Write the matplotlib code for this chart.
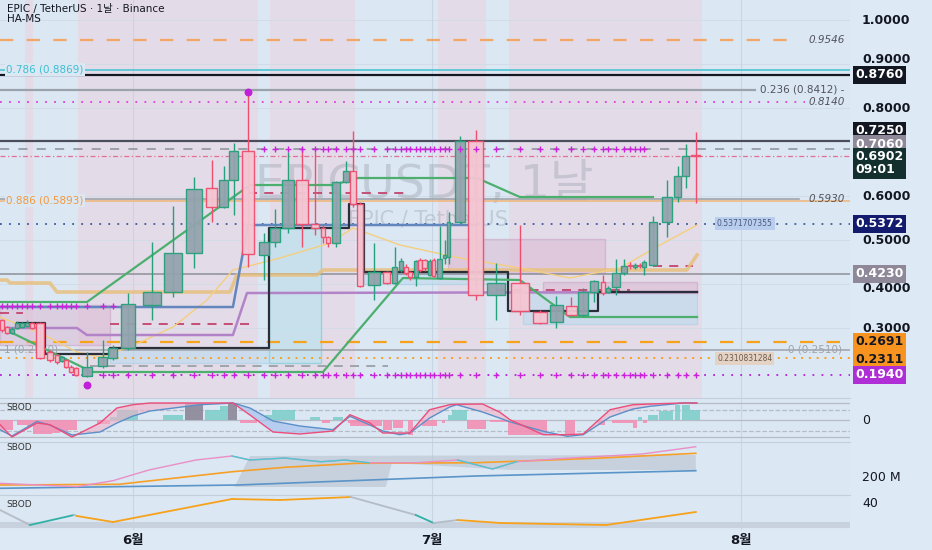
import numpy as np
import matplotlib
matplotlib.use("Agg")
import matplotlib.pyplot as plt
from matplotlib.patches import Rectangle

plt.rcParams['font.family'] = ['DejaVu Sans', 'Noto Sans CJK KR']

# x values are days counted from 1 June (6월 = 0)
cd_day = [-13.11, -12.61, -12.11, -11.61, -11.11, -10.61, -10.10, -9.30, -8.30, -7.60,
          -7.09, -6.69, -6.19, -5.69, -4.59, -2.98, -1.98, -0.47, 1.94, 4.04,
          6.15, 7.95, 9.16, 10.16, 11.57, 13.17, 14.28, 15.58, 16.98, 18.29,
          19.09, 19.59, 20.40, 21.40, 22.10, 22.80, 24.20, 25.50, 26.30, 26.90,
          27.40, 27.80, 28.40, 28.80, 29.30, 29.80, 30.20, 30.80, 31.30, 31.70,
          32.80, 34.40, 36.50, 38.90, 40.90, 42.50, 44.00, 45.20, 46.30, 47.20,
          47.70, 48.50, 49.30, 49.90, 50.40, 50.90, 51.30, 52.20, 53.60, 54.70,
          55.50, 56.50]
cd_open = [0.318, 0.302, 0.289, 0.300, 0.302, 0.304, 0.311, 0.311, 0.2455, 0.2386,
           0.225, 0.2273, 0.2114, 0.2091, 0.1909, 0.2136, 0.2318, 0.2545, 0.3523, 0.3818,
           0.4705, 0.6182, 0.575, 0.6364, 0.7023, 0.4659, 0.4955, 0.5273, 0.6364, 0.5364,
           0.5273, 0.5068, 0.4932, 0.6318, 0.6568, 0.5818, 0.3977, 0.4273, 0.4023, 0.4318,
           0.4386, 0.4273, 0.4159, 0.4545, 0.4545, 0.4205, 0.4545, 0.4136, 0.4591, 0.4614,
           0.5409, 0.725, 0.375, 0.4023, 0.3364, 0.3136, 0.350, 0.3295, 0.3818, 0.4045,
           0.3818, 0.3932, 0.425, 0.4432, 0.4386, 0.4432, 0.4386, 0.4432, 0.5409, 0.5977,
           0.6455, 0.6909]
cd_high = [0.320, 0.305, 0.302, 0.316, 0.314, 0.318, 0.314, 0.313, 0.250, 0.241,
           0.236, 0.230, 0.215, 0.211, 0.2455, 0.2727, 0.262, 0.3795, 0.4955, 0.5773,
           0.6432, 0.6818, 0.6682, 0.7205, 0.8364, 0.5159, 0.5705, 0.700, 0.7114, 0.700,
           0.5341, 0.510, 0.6341, 0.6795, 0.7477, 0.5864, 0.4932, 0.430, 0.4841, 0.460,
           0.445, 0.430, 0.455, 0.458, 0.457, 0.456, 0.458, 0.5318, 0.500, 0.5636,
           0.7364, 0.750, 0.4477, 0.5341, 0.340, 0.3727, 0.3705, 0.390, 0.4091, 0.420,
           0.395, 0.4568, 0.4568, 0.450, 0.447, 0.448, 0.455, 0.5545, 0.6364, 0.6682,
           0.7182, 0.7455]
cd_low = [0.290, 0.286, 0.286, 0.297, 0.300, 0.302, 0.298, 0.230, 0.222, 0.218,
          0.222, 0.209, 0.197, 0.190, 0.188, 0.210, 0.228, 0.250, 0.3182, 0.3705,
          0.4364, 0.5409, 0.5727, 0.5568, 0.4386, 0.4091, 0.4841, 0.5159, 0.4841, 0.5114,
          0.4932, 0.4841, 0.4841, 0.6295, 0.575, 0.3932, 0.3636, 0.400, 0.400, 0.428,
          0.420, 0.410, 0.3955, 0.428, 0.430, 0.418, 0.415, 0.4114, 0.445, 0.4455,
          0.5386, 0.3636, 0.3182, 0.3295, 0.309, 0.300, 0.328, 0.327, 0.360, 0.375,
          0.380, 0.375, 0.420, 0.435, 0.435, 0.436, 0.420, 0.4409, 0.5068, 0.5864,
          0.6182, 0.5841]
cd_close = [0.296, 0.289, 0.298, 0.311, 0.311, 0.311, 0.300, 0.232, 0.2273, 0.2227,
            0.234, 0.2114, 0.200, 0.1932, 0.2114, 0.2341, 0.2545, 0.3545, 0.3818, 0.4705,
            0.6159, 0.575, 0.6364, 0.7023, 0.4682, 0.4955, 0.5273, 0.6364, 0.5364, 0.5273,
            0.5068, 0.4932, 0.6318, 0.6568, 0.5818, 0.3955, 0.4273, 0.4023, 0.4386, 0.4523,
            0.425, 0.4159, 0.4523, 0.4318, 0.4364, 0.4523, 0.4182, 0.4568, 0.4659, 0.5409,
            0.725, 0.375, 0.4023, 0.3386, 0.3114, 0.3523, 0.3295, 0.3818, 0.4068, 0.3795,
            0.3909, 0.425, 0.4409, 0.440, 0.4432, 0.440, 0.450, 0.5409, 0.5977, 0.6455,
            0.6909, 0.6902]

# shaded sessions (day ranges)
band_start = [-10.8, -5.5, 13.8, 30.6, 37.8]
band_end = [-10.0, 12.6, 22.3, 35.5, 57.1]

# indicator lines on the price pane
green_hi_day = [-13.31, -4.59, 11.77, 20.1, 22.6, 34.54, 38.85, 52.2]
green_hi_val = [0.3591, 0.3591, 0.625, 0.625, 0.6409, 0.6409, 0.5977, 0.5977]
green_lo_day = [-13.31, -5.09, -4.29, 19.09, 27.11, 38.85, 43.87, 56.62]
green_lo_val = [0.3023, 0.2114, 0.200, 0.200, 0.4136, 0.4091, 0.325, 0.325]
navy_day = [-11.61, -8.8, -2.28, 13.68, 21.7, 23.2, 37.65, 46.68, 56.62]
navy_val = [0.3114, 0.2409, 0.2545, 0.5273, 0.5818, 0.4273, 0.3386, 0.3818, 0.3818]
steel_day = [-13.31, 10.06, 11.57, 34.5]
steel_val = [0.3477, 0.3477, 0.5341, 0.5341]
purple_day = [-13.31, -5.59, -4.59, 10.06, 11.47, 56.62]
purple_val = [0.300, 0.300, 0.2841, 0.2841, 0.3795, 0.3818]
tan_day = [-13.31, -12.6, -12.3, -8.3, -7.6, 9.76, 10.46, 18.49, 19.09, 55.6, 56.62]
tan_val = [0.4091, 0.4091, 0.4023, 0.4023, 0.3818, 0.3818, 0.4205, 0.4205, 0.4318, 0.4318, 0.4659]
ema_day = [-13.31, -9.3, -5.59, -3.28, -0.27, 4.04, 7.45, 10.06, 14.78, 19.8, 22.1,
           26.82, 32.84, 38.85, 43.87, 48.9, 52.9, 56.62]
ema_val = [0.325, 0.2886, 0.2455, 0.2341, 0.2568, 0.3023, 0.3636, 0.4318, 0.4591, 0.4932,
           0.5273, 0.4886, 0.4591, 0.4364, 0.4136, 0.4364, 0.4886, 0.5341]

# short dashed segments
seg_day0 = [11.57, -13.31, -2.28, 36.55, 52.2, -4.3]
seg_day1 = [27.5, -11.0, 11.77, 49.9, 56.2, 25.6]
seg_val = [0.6068, 0.334, 0.3091, 0.3864, 0.4409, 0.2136]
seg_kind = ['pink', 'pink', 'pink', 'pink', 'pink', 'gray']

# zones
box_day0 = [13.68, -13.31, -2.28, 31.6, 39.2, 41.2, 23.2]
box_day1 = [18.9, -2.28, 13.68, 47.4, 56.6, 56.6, 37.65]
box_lo = [0.2205, 0.2614, 0.2205, 0.425, 0.3091, 0.3795, 0.400]
box_hi = [0.5273, 0.3523, 0.2545, 0.5023, 0.3795, 0.4045, 0.4273]
box_kind = ['cyan', 'pink', 'blue', 'pink', 'blue', 'pink', 'blue']

dot_day = [11.57, -4.59]
dot_val = [0.8364, 0.1705]

price_ticks = [1.0, 0.9, 0.8, 0.6, 0.5, 0.4, 0.3]
month_day = [0, 30, 61]
month_lbl = ['6월', '7월', '8월']

# oscillator pane
osc_day = [-13.31, -12.11, -9.6, -8.3, -6.09, -3.28, -1.58, 0.03, 1.74, 6.75, 10.06, 11.77,
           14.08, 16.78, 20.1, 21.8, 23.8, 25.1, 26.8, 27.8, 29.8, 31.8, 32.5, 35.1, 36.8,
           37.9, 41.2, 43.6, 45.2, 47.9, 50.2, 51.9, 55.2, 56.6]
osc_red = [-4.7, -17, -3, -4.7, -17, -3, 12, 15.3, 17, 17, 17, 5, -12, -14, -11, 5.3, -3,
           -13, -13, -13, 10.3, 15.3, 15.7, 16, 8, 0, -14.7, -14.7, -14, 10.3, 15.3, 16, 17, 17]
osc_blue = [-9.7, -16, -1.5, -5, -15, -12, -3, 4, 9, 15.3, 17, 12, -1, -6, -9.7, 3.7, -5,
            -11, -14.7, -13, 2, 13, 15.3, 8, 2, -2, -11.3, -16.3, -14.7, 3, 11, 13.7, 17, 17]
hist_start = [-13.31, -11.61, -10.6, -10.0, -8.8, -8.1, -7.3, -6.5, -3.6, -2.3, -1.6, 3.03,
              5.25, 7.25, 8.76, 9.56, 10.76, 13.27, 13.97, 17.79, 18.99, 20.1, 21.6,
              21.8, 25.1, 26.1, 27.6, 29.0, 31.0, 31.6, 32.0, 33.5, 35.85, 37.65, 40.4,
              43.4, 46.7, 48.1, 50.2, 50.7, 51.2, 51.7, 52.8, 54.4, 55.1, 55.9]
hist_end = [-12.01, -10.6, -10.0, -8.8, -8.1, -7.3, -6.5, -5.6, -2.3, -1.6, 0.5, 5.05,
            7.05, 8.76, 9.56, 10.46, 12.47, 13.97, 16.28, 18.79, 19.8, 21.1, 22.8,
            25.0, 26.0, 27.1, 28.1, 30.5, 31.3, 32.0, 33.5, 35.5, 37.65, 40.4, 41.6,
            44.4, 47.4, 50.2, 50.6, 51.1, 51.6, 52.7, 54.2, 54.9, 55.9, 56.9]
hist_val = [-9.7, -4.7, -6, -14, -14, -13, -12, -10, -4, 3, 10, 5.3,
            17, 10, 14, 17, -3, 5, 10, 3, -3, 3, -3,
            -6, -9.7, -8, -14.7, -6, -3, 5, 10, -8.7, -2, -14.7, -14.7,
            -14.7, -4.7, -3, -8, 3, -3, 5, 9, 15, 15, 10]

# volume pane (millions)
vol_day = [-13.31, -5.59, -1.98, 1.63, 6.35, 9.96, 11.77, 15.28, 18.88, 21.29, 23.7,
           28.4, 32.6, 36.1, 38.5, 43.4, 47.5, 51.1, 56.5]
vol_pink = [174.8, 161.2, 185.2, 228, 268, 284, 268, 276, 261, 268, 257,
            257, 268, 232, 261, 274.8, 284, 292, 321]
vol_or_day = [-13.31, -1.37, 9.96, 15.28, 22.49, 34.4, 46.4, 56.5]
vol_or = [168, 170.8, 221, 238.8, 254.8, 257, 274.8, 294.8]
vol_bl_day = [-13.31, 10.57, 34.4, 56.5]
vol_bl = [154.8, 168, 204, 225.2]
vol_band_day = [10.2, 11.77, 56.5, 56.5, 37.9, 26.0, 25.4]
vol_band_val = [160, 284, 288, 228, 228, 256, 160]

# third pane
p3_day = [-13.31, -10.3, -5.89, -5.59, -1.98, 9.96, 14.78, 21.9, 28.4, 30.2, 32.6, 36.9, 47.5, 56.5]
p3_val = [33, 18, 28, 27, 21, 44, 43, 46, 28, 20, 23, 20, 18, 31]
p3_col = ['#b4bcc6', '#33b0a6', '#b4bcc6', '#f7a21b', '#f7a21b', '#f7a21b', '#f7a21b',
          '#b4bcc6', '#33b0a6', '#b4bcc6', '#f7a21b', '#f7a21b', '#f7a21b']

BG = '#dbe7f3'
BAND = '#e4dbe8'
GRID = '#c9d5e2'

fig = plt.figure(figsize=(9.32, 5.5), dpi=100)
fig.patch.set_facecolor('#dde9f5')
ax = fig.add_axes([0, 0.27636, 0.91202, 0.72364])
ax1 = fig.add_axes([0, 0.19636, 0.91202, 0.08])
ax2 = fig.add_axes([0, 0.1, 0.91202, 0.09636])
ax3 = fig.add_axes([0, 0.03636, 0.91202, 0.06364])

for a in (ax, ax1, ax2, ax3):
    a.set_facecolor(BG)
    a.set_xlim(-13.31, 71.97)
    a.set_xticks([])
    a.set_yticks([])
    for s in a.spines.values():
        s.set_visible(False)
    for m in month_day:
        a.axvline(m, color=GRID, lw=0.8, zorder=0.5)
for a in (ax1, ax2, ax3):
    a.spines['top'].set_visible(True)
    a.spines['top'].set_color('#c3cfdc')

# ---- price pane
ax.set_ylim(0.1409, 1.0455)
for s0, s1 in zip(band_start, band_end):
    ax.axvspan(s0, s1, color=BAND, lw=0, zorder=0.2)
for p in price_ticks:
    ax.axhline(p, color='#d0dbe7', lw=0.6, zorder=0.4)

ax.text(29.3, 0.625, 'EPICUSDT, 1날', fontsize=34, color='#9aa3ad', alpha=0.4,
        ha='center', va='center', zorder=1)
ax.text(29.6, 0.5455, 'EPIC / TetherUS', fontsize=15, color='#9aa3ad', alpha=0.4,
        ha='center', va='center', zorder=1)

box_style = {'cyan': ('#bfe3ee', '#7fcfdc', 0.75), 'blue': ('#bddbee', '#a9d0e6', 0.6),
             'pink': ('#dcbad3', '#c9a2c3', 0.55)}
for x0, x1, lo, hi, k in zip(box_day0, box_day1, box_lo, box_hi, box_kind):
    fc, ec, al = box_style[k]
    ax.add_patch(Rectangle((x0, lo), x1 - x0, hi - lo, fc=fc, ec=ec, lw=1, alpha=al, zorder=1.2))

# horizontal levels
ax.axhline(0.9546, xmax=0.935, color='#f3a766', lw=1.6, ls=(0, (6, 6)), zorder=2)
ax.axhline(0.8869, color='#58c7d6', lw=1.3, zorder=2)
ax.axhline(0.8760, color='#131722', lw=1.6, zorder=2)
ax.axhline(0.8412, xmax=0.888, color='#9aa2ab', lw=1.6, zorder=2)
ax.axhline(0.8140, xmax=0.947, color='#dd3fdd', lw=1.3, ls=(0, (1, 4)), zorder=2)
ax.axhline(0.7250, color='#4a4e5c', lw=1.6, zorder=2)
ax.axhline(0.7060, color='#8a8f98', lw=1.1, ls=(0, (6, 6)), zorder=2)
ax.axhline(0.6902, color='#e46f95', lw=0.9, ls=(0, (4, 2, 1, 2)), zorder=2)
ax.axhline(0.5930, xmax=0.94, color='#a0a4aa', lw=1.2, zorder=2)
ax.axhline(0.5893, color='#f0b578', lw=1.1, zorder=2)
ax.axhline(0.5372, color='#3c5a99', lw=1.3, ls=(0, (1, 4)), zorder=2)
ax.axhline(0.4230, color='#8c9097', lw=1.1, zorder=2)
ax.axhline(0.2691, color='#f7a21b', lw=1.6, ls=(0, (6, 6)), zorder=2)
ax.axhline(0.2510, color='#9fa3a9', lw=1.1, zorder=2)
ax.axhline(0.2311, color='#f7a21b', lw=1.4, ls=(0, (1, 3)), zorder=2)
ax.axhline(0.1940, color='#b61fd6', lw=1.3, ls=(0, (1, 4)), zorder=2)

for x0, x1, v, k in zip(seg_day0, seg_day1, seg_val, seg_kind):
    c = '#c2456e' if k == 'pink' else '#9aa0a6'
    ax.plot([x0, x1], [v, v], color=c, lw=1.3, ls=(0, (5, 4)), zorder=2.2)

ax.plot(tan_day, tan_val, color='#e7c07f', lw=2.6, alpha=0.85, zorder=2.5)
ax.plot(ema_day, ema_val, color='#f4cf7e', lw=1.0, zorder=2.6)
ax.plot(purple_day, purple_val, color='#b383c8', lw=1.8, zorder=2.7)
ax.plot(steel_day, steel_val, color='#6286bd', lw=1.8, zorder=2.7)
ax.plot(navy_day, navy_val, color='#2a2e39', lw=1.6, drawstyle='steps-post', zorder=2.8)
ax.plot(green_hi_day, green_hi_val, color='#4caf6e', lw=1.6, zorder=2.9)
ax.plot(green_lo_day, green_lo_val, color='#4caf6e', lw=1.6, zorder=2.9)

# candles
d = np.array(cd_day)
gaps = np.diff(d)
w = np.minimum(0.9 * np.minimum(np.r_[gaps[0], gaps], np.r_[gaps, gaps[-1]]), 1.8)
for i in range(len(d)):
    up = cd_close[i] >= cd_open[i]
    ec = '#26a17b' if up else '#ef4d6e'
    fc = '#93a3ad' if up else '#f3c6d2'
    ax.vlines(d[i], cd_low[i], cd_high[i], color=ec, lw=1, zorder=4)
    lo, hi = sorted((cd_open[i], cd_close[i]))
    ax.add_patch(Rectangle((d[i] - w[i] / 2, lo), w[i], max(hi - lo, 0.002),
                           fc=fc, ec=ec, lw=1, alpha=0.95, zorder=4.5))

ax.scatter(d[25:67], np.full(42, 0.7060), marker='+', s=14, color='#cc22dd', lw=1, zorder=5)
ax.scatter(d[15:], np.full(len(d) - 15, 0.1940), marker='+', s=14, color='#cc22dd', lw=1, zorder=5)
ax.scatter(d[:17], np.full(17, 0.3500), marker='+', s=14, color='#cc22dd', lw=1, zorder=5)
ax.scatter(dot_day, dot_val, marker='o', s=22, color='#c020d8', zorder=5.5)

# level captions
ax.text(-12.7, 0.8869, '0.786 (0.8869)', color='#3fbfd0', fontsize=7.5, va='center', zorder=3,
        bbox=dict(fc=BG, ec='none', pad=1))
ax.text(-12.7, 0.5893, '0.886 (0.5893)', color='#f09a3e', fontsize=7.5, va='center', zorder=3,
        bbox=dict(fc=BG, ec='none', pad=1))
ax.text(-12.9, 0.2510, '1 (0.2510)', color='#a0a4aa', fontsize=7.5, va='center', zorder=1.5)
ax.text(67.2, 0.8412, '0.236 (0.8412) -', color='#50535e', fontsize=7.5, va='center', ha='center', zorder=3)
ax.text(68.5, 0.2510, '0 (0.2510)', color='#a0a4aa', fontsize=7.5, va='center', ha='center', zorder=3)
for v in (0.9546, 0.8140, 0.5930):
    ax.text(71.5, v, '%.4f' % v, color='#50535e', fontsize=7.5, style='italic',
            va='center', ha='right', zorder=3)
ax.text(61.4, 0.5372, '0.5371707355', color='#4a5a7a', fontsize=5.5, va='center', ha='center',
        zorder=3, bbox=dict(fc='#b9cdef', ec='none', pad=1.5))
ax.text(61.4, 0.2311, '0.2310831284', color='#6b5a4a', fontsize=5.5, va='center', ha='center',
        zorder=3, bbox=dict(fc='#e4d2c4', ec='none', pad=1.5))

# right price scale (ticks next to a tag are nudged a little, as TradingView does)
yt = ax.get_yaxis_transform()
tick_nudge = {0.9: 3.5, 0.4: -3.5}
for p in price_ticks:
    ax.annotate('%.4f' % p, xy=(1.014, p), xycoords=yt, xytext=(0, tick_nudge.get(p, 0)),
                textcoords='offset points', fontsize=9, weight='bold', color='#131722',
                va='center', ha='left', annotation_clip=False)
# value, box colour, text colour, vertical shift (points) to avoid overlaps
tags = [(0.8760, '#131722', 'white', 0), (0.7250, '#131722', 'white', 7.5),
        (0.7060, '#8e8898', 'white', 3.8), (0.5372, '#121b6e', 'white', 0),
        (0.4230, '#8e8898', 'white', 0), (0.2691, '#f7931e', '#131722', 0),
        (0.2311, '#f7931e', '#131722', -1), (0.1940, '#b02ed6', 'white', 0)]
for v, fc, tc, dy in tags:
    ax.annotate('%.4f' % v, xy=(1.006, v), xycoords=yt, xytext=(0, dy),
                textcoords='offset points', fontsize=9, weight='bold', color=tc,
                va='center', ha='left', annotation_clip=False, zorder=10,
                bbox=dict(boxstyle='square,pad=0.2', fc=fc, ec='none'))
ax.annotate('0.6902\n09:01', xy=(1.006, 0.6902), xycoords=yt, xytext=(0, -5),
            textcoords='offset points', fontsize=9, weight='bold', color='white', va='center',
            ha='left', linespacing=1.0, annotation_clip=False, zorder=10,
            bbox=dict(boxstyle='square,pad=0.2', fc='#13302f', ec='none'))

# ---- oscillator pane
ax1.set_ylim(-22, 22)
for v, ls in ((17, '-'), (10, '--'), (0, '-'), (-11, '--'), (-17, '-')):
    ax1.axhline(v, color='#b4bcc6', lw=0.9, ls=ls, zorder=0.6)
for s0, s1, v in zip(hist_start, hist_end, hist_val):
    c = '#8c8898' if v >= 16.5 else ('#7fcfcc' if v > 0 else '#f290b4')
    ax1.bar(s0, v, width=s1 - s0, align='edge', color=c, lw=0, alpha=0.9, zorder=1)
red = np.array(osc_red)
blue = np.array(osc_blue)
ax1.fill_between(osc_day, red, blue, where=red >= blue, interpolate=True, color='#f0b2c8', alpha=0.6, lw=0, zorder=1.5)
ax1.fill_between(osc_day, red, blue, where=red < blue, interpolate=True, color='#a9c3ee', alpha=0.7, lw=0, zorder=1.5)
ax1.plot(osc_day, blue, color='#5c8fc8', lw=1, zorder=2)
ax1.plot(osc_day, red, color='#ec4d7a', lw=1, zorder=2)
ax1.text(-12.7, 13, 'SBOD', fontsize=6.5, color='#333', va='center')
ax1.text(1.014, 0, '0', transform=ax1.get_yaxis_transform(), fontsize=9, color='#131722',
         va='center', clip_on=False)

# ---- volume pane
ax2.set_ylim(128, 340)
ax2.fill(vol_band_day, vol_band_val, color='#b9c3cf', alpha=0.6, lw=0, zorder=1)
ax2.plot(vol_bl_day, vol_bl, color='#5a94c8', lw=1.2, zorder=2)
ax2.plot(vol_or_day, vol_or, color='#f7a028', lw=1.2, zorder=2.2)
ax2.plot(vol_day, vol_pink, color='#e98fc6', lw=1, zorder=2.4)
ax2.plot(vol_day[5:11], vol_pink[5:11], color='#4cc7cf', lw=1, zorder=2.5)
ax2.plot(vol_day[12:15], vol_pink[12:15], color='#4cc7cf', lw=1, zorder=2.5)
ax2.text(-12.7, 318, 'SBOD', fontsize=6.5, color='#333', va='center')
ax2.text(1.014, 200, '200 M', transform=ax2.get_yaxis_transform(), fontsize=9, color='#131722',
         va='center', clip_on=False)

# ---- third pane
ax3.set_ylim(13, 48)
ax3.axhspan(15, 21, color='#c8d2de', lw=0, zorder=0.6)
for i, c in enumerate(p3_col):
    ax3.plot(p3_day[i:i + 2], p3_val[i:i + 2], color=c, lw=1.3, zorder=2)
ax3.text(-12.7, 39, 'SBOD', fontsize=6.5, color='#333', va='center')
ax3.text(1.014, 40, '40', transform=ax3.get_yaxis_transform(), fontsize=9, color='#131722',
         va='center', clip_on=False)
ax3.set_xticks(month_day)
ax3.set_xticklabels(month_lbl, fontsize=9.5, weight='bold', color='#131722')
ax3.tick_params(axis='x', length=0, pad=3)

fig.text(7 / 932, 1 - 9 / 550, 'EPIC / TetherUS · 1날 · Binance', fontsize=7.5, color='#131722', va='center')
fig.text(7 / 932, 1 - 18.5 / 550, 'HA-MS', fontsize=7.5, color='#131722', va='center')

fig.savefig('out.png', dpi=100, facecolor=fig.get_facecolor())
